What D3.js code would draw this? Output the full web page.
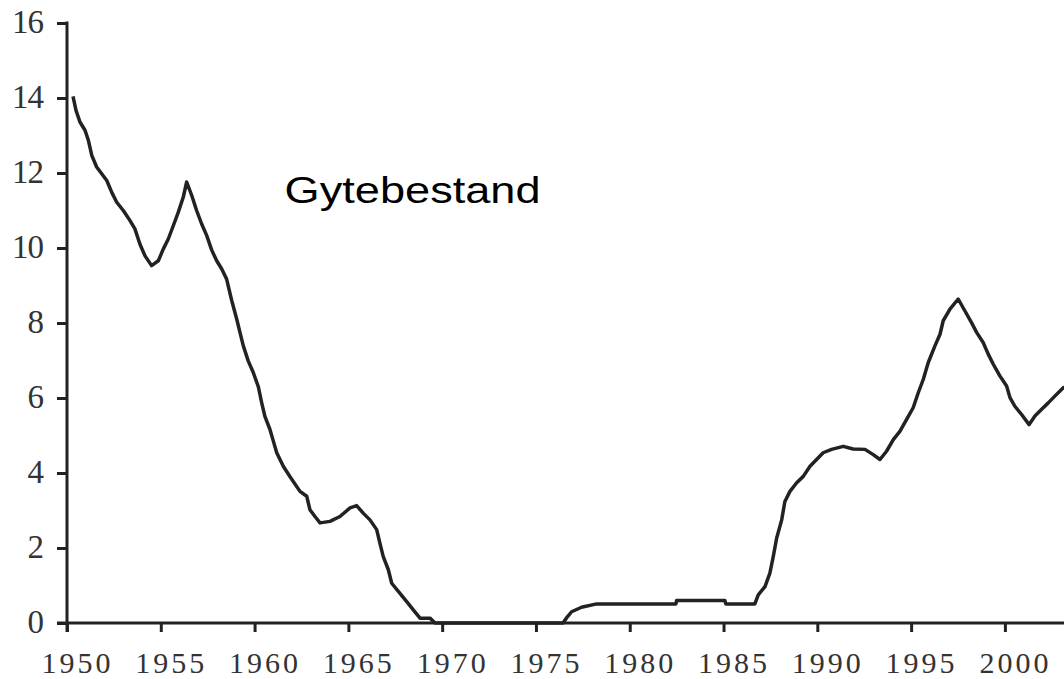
<!DOCTYPE html>
<html>
<head>
<meta charset="utf-8">
<script src="https://cdn.jsdelivr.net/npm/d3@7"></script>
<style>
  html, body { margin: 0; padding: 0; background: #fff; }
  svg { display: block; }
</style>
</head>
<body>
<svg id="chart" width="1064" height="679"></svg>
<script>
// ---- Data ----
const title = "Gytebestand";
const years = [
  1950.34, 1950.48, 1950.69, 1950.96, 1951.14, 1951.32, 1951.58, 1951.85, 1952.12, 1952.38,
  1952.65, 1953.0, 1953.36, 1953.62, 1953.89, 1954.16, 1954.51, 1954.87, 1955.13, 1955.4,
  1955.67, 1955.93, 1956.2, 1956.38, 1956.65, 1956.91, 1957.18, 1957.45, 1957.71, 1957.98,
  1958.25, 1958.51, 1958.78, 1959.05, 1959.22, 1959.4, 1959.66, 1959.93, 1960.2, 1960.38,
  1960.55, 1960.82, 1961.0, 1961.18, 1961.53, 1961.89, 1962.42, 1962.78, 1962.95, 1963.22,
  1963.49, 1964.02, 1964.55, 1965.09, 1965.44, 1965.79, 1966.15, 1966.51, 1966.68, 1966.86,
  1967.13, 1967.31, 1967.75, 1968.11, 1968.46, 1968.82, 1969.35, 1969.62, 1976.44, 1976.65,
  1976.9, 1977.43, 1978.24, 1982.46, 1982.5, 1985.07, 1985.12, 1986.67, 1986.85, 1987.21,
  1987.47, 1987.65, 1987.83, 1988.1, 1988.27, 1988.54, 1988.9, 1989.25, 1989.61, 1989.96,
  1990.31, 1990.76, 1991.38, 1991.91, 1992.54, 1992.98, 1993.34, 1993.69, 1994.05, 1994.4,
  1994.76, 1995.11, 1995.38, 1995.65, 1995.91, 1996.27, 1996.54, 1996.71, 1997.07, 1997.51,
  1997.87, 1998.22, 1998.49, 1998.84, 1999.11, 1999.38, 1999.73, 2000.09, 2000.27, 2000.53,
  2000.89, 2001.29, 2001.6, 2001.96, 2002.31, 2002.66, 2003.1
];
const values = [
  14.0, 13.67, 13.36, 13.14, 12.87, 12.47, 12.16, 11.98, 11.8, 11.49,
  11.22, 11.0, 10.73, 10.51, 10.1, 9.79, 9.53, 9.66, 9.97, 10.24,
  10.6, 10.95, 11.36, 11.76, 11.4, 11.0, 10.64, 10.33, 9.95, 9.66,
  9.44, 9.17, 8.6, 8.1, 7.75, 7.39, 6.99, 6.68, 6.3, 5.87,
  5.51, 5.16, 4.85, 4.54, 4.18, 3.9, 3.51, 3.38, 3.02, 2.84,
  2.67, 2.71, 2.84, 3.07, 3.13, 2.93, 2.75, 2.49, 2.13, 1.77,
  1.42, 1.06, 0.79, 0.57, 0.35, 0.13, 0.13, 0.0, 0.0, 0.15,
  0.3, 0.42, 0.51, 0.51, 0.6, 0.6, 0.51, 0.51, 0.75, 0.97,
  1.33, 1.77, 2.26, 2.75, 3.24, 3.51, 3.74, 3.91, 4.18, 4.36,
  4.54, 4.63, 4.71, 4.64, 4.63, 4.49, 4.36, 4.58, 4.89, 5.11,
  5.43, 5.74, 6.14, 6.5, 6.94, 7.39, 7.7, 8.06, 8.37, 8.64,
  8.32, 8.01, 7.75, 7.48, 7.17, 6.9, 6.59, 6.32, 6.01, 5.78,
  5.56, 5.29, 5.52, 5.7, 5.87, 6.05, 6.27
];
const xTicks = [1950, 1955, 1960, 1965, 1970, 1975, 1980, 1985, 1990, 1995, 2000];
const xTickLabels = ["1950", "1955", "1960", "1965", "1970", "1975", "1980", "1985", "1990", "1995", "2000"];
const yTicks = [0, 2, 4, 6, 8, 10, 12, 14, 16];
const yTickLabels = ["0", "2", "4", "6", "8", "10", "12", "14", "16"];

// ---- Layout ----
const W = 1064, H = 679;
const svg = d3.select("#chart");
const ink = "#222";

const x = d3.scaleLinear().domain([1950, 2003.15]).range([67, W]);
const y = d3.scaleLinear().domain([0, 16]).range([623, 23]);

// Y axis
const yAxis = d3.axisLeft(y)
  .tickValues(yTicks)
  .tickFormat((d, i) => yTickLabels[i])
  .tickSize(10)
  .tickPadding(14);
const gy = svg.append("g").attr("transform", `translate(${x(1950)},0)`).call(yAxis);
gy.select(".domain").remove();
gy.selectAll(".tick line").attr("stroke", ink).attr("stroke-width", 3);
gy.selectAll(".tick text")
  .attr("fill", "#333")
  .attr("dy", "0.28em")
  .style("font-family", "'Liberation Serif', 'Times New Roman', serif")
  .style("font-size", "33px")
  .style("letter-spacing", "-1px");
svg.append("line")
  .attr("x1", x(1950)).attr("x2", x(1950))
  .attr("y1", y(16) - 1.5).attr("y2", y(0) + 9)
  .attr("stroke", ink).attr("stroke-width", 3);

// X axis
const xAxis = d3.axisBottom(x)
  .tickValues(xTicks)
  .tickFormat((d, i) => xTickLabels[i])
  .tickSize(9)
  .tickPadding(20);
const gx = svg.append("g").attr("transform", `translate(0,${y(0)})`).call(xAxis);
gx.select(".domain").remove();
gx.selectAll(".tick line").attr("stroke", ink).attr("stroke-width", 3);
gx.selectAll(".tick text")
  .attr("fill", "#333")
  .attr("dx", 10)
  .style("font-family", "'Liberation Serif', 'Times New Roman', serif")
  .style("font-size", "30px")
  .style("letter-spacing", "3px");
svg.append("line")
  .attr("x1", x(1950) - 10).attr("x2", W)
  .attr("y1", y(0)).attr("y2", y(0))
  .attr("stroke", ink).attr("stroke-width", 3);

// Series line
const line = d3.line()
  .x((d, i) => x(years[i]))
  .y(d => y(d));
svg.append("path")
  .datum(values)
  .attr("d", line)
  .attr("fill", "none")
  .attr("stroke", ink)
  .attr("stroke-width", 3.5)
  .attr("stroke-linejoin", "round")
  .attr("stroke-linecap", "square");

// Title label
svg.append("text")
  .attr("x", x(1961.6))
  .attr("y", y(11.2))
  .attr("textLength", 256)
  .attr("lengthAdjust", "spacingAndGlyphs")
  .style("font-family", "'Liberation Sans', Arial, sans-serif")
  .style("font-size", "37px")
  .attr("fill", "#000")
  .text(title);
</script>
</body>
</html>
